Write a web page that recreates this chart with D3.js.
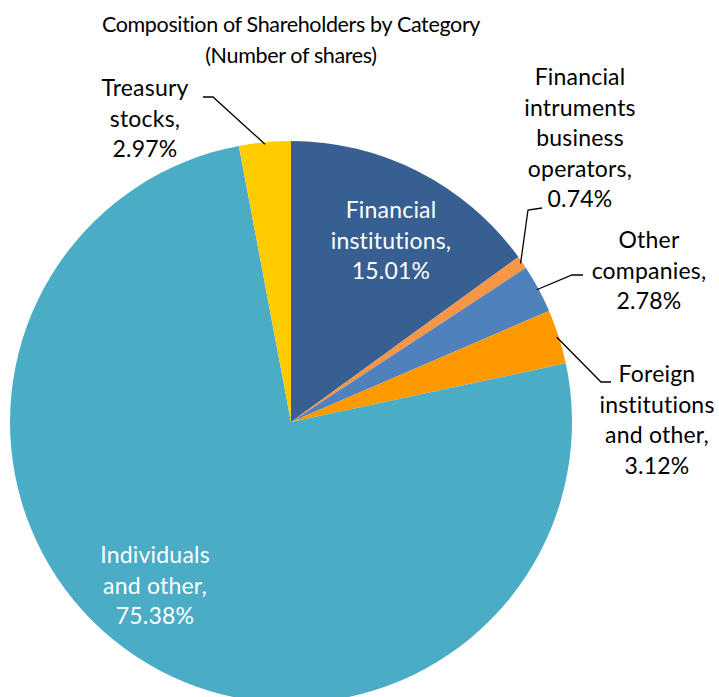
<!DOCTYPE html>
<html><head><meta charset="utf-8">
<script src="https://cdn.jsdelivr.net/npm/d3@7"></script>
<style>body{margin:0;background:#fff}svg{display:block}text{font-family:Lato,"Open Sans",sans-serif}</style>
</head><body>
<script>
const categories = ["Financial institutions", "Financial intruments business operators", "Other companies", "Foreign institutions and other", "Individuals and other", "Treasury stocks"];
const values = [15.01, 0.74, 2.78, 3.12, 75.38, 2.97];
const colors = ["#375F91", "#F79646", "#4F81BD", "#FF9900", "#4BACC6", "#FFCC00"];
const labelLines = [
  ["Financial", "institutions,", "15.01%"],
  ["Financial", "intruments", "business", "operators,", "0.74%"],
  ["Other", "companies,", "2.78%"],
  ["Foreign", "institutions", "and other,", "3.12%"],
  ["Individuals", "and other,", "75.38%"],
  ["Treasury", "stocks,", "2.97%"]
];
const titleLines = ["Composition of Shareholders by Category", "(Number of shares)"];

const W = 719, H = 697, cx = 291, cy = 422, R = 281;
const fs = 23, lh = 30.5;
const svg = d3.select("body").append("svg").attr("width", W).attr("height", H);

const pie = d3.pie().sort(null).value(d => d)(values);
const arc = d3.arc().innerRadius(0).outerRadius(R);
const g = svg.append("g").attr("transform", `translate(${cx},${cy})`);
g.selectAll("path").data(pie).join("path").attr("d", arc).attr("fill", (d, i) => colors[i]);

const place = [
  {x: 391, y: 210, c: "#fff"},
  {x: 580, y: 77, c: "#000", leader: [[528, 210], [542, 208]]},
  {x: 649, y: 240, c: "#000", leader: [[572, 275], [583, 275]]},
  {x: 657, y: 374, c: "#000", leader: [[601, 382], [611, 382]]},
  {x: 155, y: 555, c: "#fff"},
  {x: 145, y: 88, c: "#000", leader: [[213, 97], [203, 97]]}
];
const outer = d3.arc().innerRadius(R - 2).outerRadius(R - 2);
pie.forEach((d, i) => {
  const p = place[i];
  if (p.leader) {
    const a = outer.centroid(d);
    const pts = [[a[0] + cx, a[1] + cy], ...p.leader];
    svg.append("path").attr("d", d3.line()(pts)).attr("fill", "none").attr("stroke", "#000").attr("stroke-width", 1.3);
  }
  const t = svg.append("text").attr("text-anchor", "middle").attr("font-size", fs).attr("letter-spacing", 0.2).attr("fill", p.c);
  labelLines[i].forEach((s, k) => t.append("tspan").attr("x", p.x).attr("y", p.y + k * lh).attr("dy", "0.35em").text(s));
});

const tt = svg.append("text").attr("text-anchor", "middle").attr("font-size", 21.5).attr("letter-spacing", -0.35).attr("fill", "#000");
titleLines.forEach((s, k) => tt.append("tspan").attr("x", 291).attr("y", 24 + k * 31).attr("dy", "0.35em").text(s));
</script>
</body></html>
